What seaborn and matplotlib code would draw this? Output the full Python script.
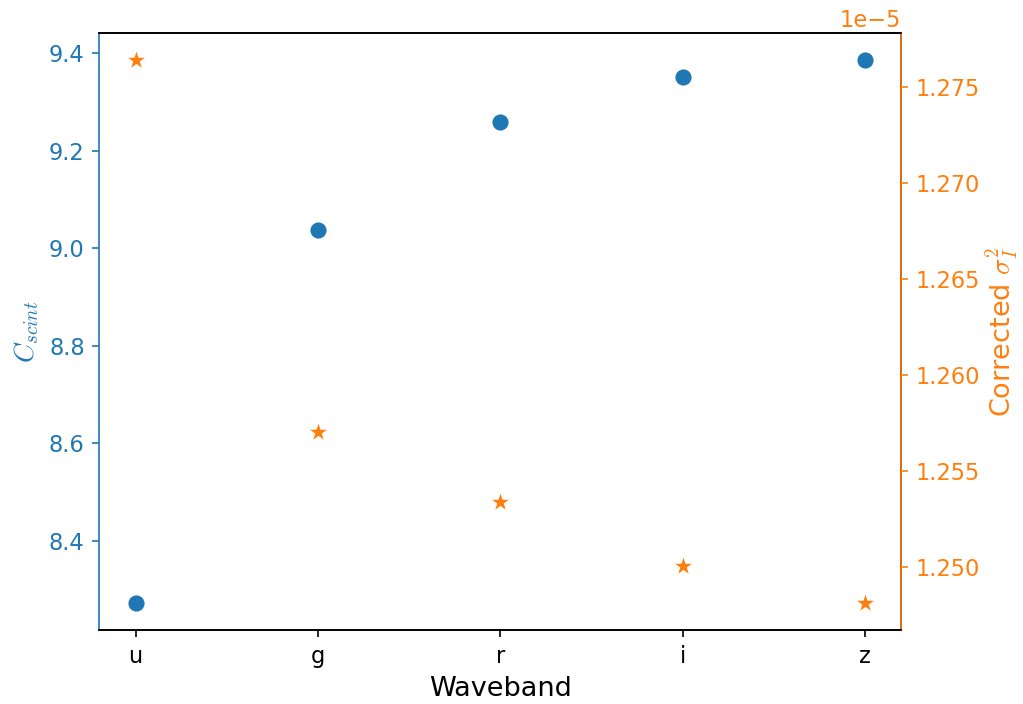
import matplotlib
matplotlib.use("Agg")
import matplotlib.pyplot as plt
import seaborn as sns
import pandas as pd

plt.rcParams['font.family'] = ['DejaVu Sans']
plt.rcParams['mathtext.fontset'] = 'cm'

bands = ["u", "g", "r", "i", "z"]
c_scint = [8.273, 9.037, 9.259, 9.351, 9.386]
sigma_corr = [1.27641e-5, 1.25705e-5, 1.25339e-5, 1.25002e-5, 1.24812e-5]

df = pd.DataFrame({"band": bands, "c_scint": c_scint, "sigma": sigma_corr})
df["pos"] = range(len(bands))

blue = "#1f77b4"
orange = "#ff7f0e"

fig, ax = plt.subplots(figsize=(1023 / 150, 704 / 150), dpi=150)
fig.subplots_adjust(left=0.097, right=0.881, top=0.953, bottom=0.105)

sns.scatterplot(data=df, x="pos", y="c_scint", ax=ax, color=blue, marker="o",
                s=60, edgecolor=blue, linewidth=0)
ax.set_xticks(df["pos"])
ax.set_xticklabels(bands)
ax.set_xlabel("Waveband", fontsize=13)
ax.set_ylabel(r"$C_{scint}$", color=blue, fontsize=13)
ax.tick_params(axis="y", colors=blue, labelsize=10.8)
ax.tick_params(axis="x", labelsize=10.8)
ax.spines["left"].set_color(blue)

ax2 = ax.twinx()
sns.scatterplot(data=df, x="pos", y="sigma", ax=ax2, color=orange, marker="*",
                s=72, edgecolor=orange, linewidth=0)
ax2.set_ylabel(r"Corrected $\sigma_I^2$", color=orange, fontsize=13, labelpad=2)
ax2.tick_params(axis="y", colors=orange, labelsize=10.8)
ax2.yaxis.get_offset_text().set_color(orange)
ax2.yaxis.get_offset_text().set_fontsize(10.8)
ax2.spines["right"].set_color(orange)
ax2.spines["left"].set_visible(False)
ax2.set_xlabel("")

fig.savefig("out.png", dpi=150)
